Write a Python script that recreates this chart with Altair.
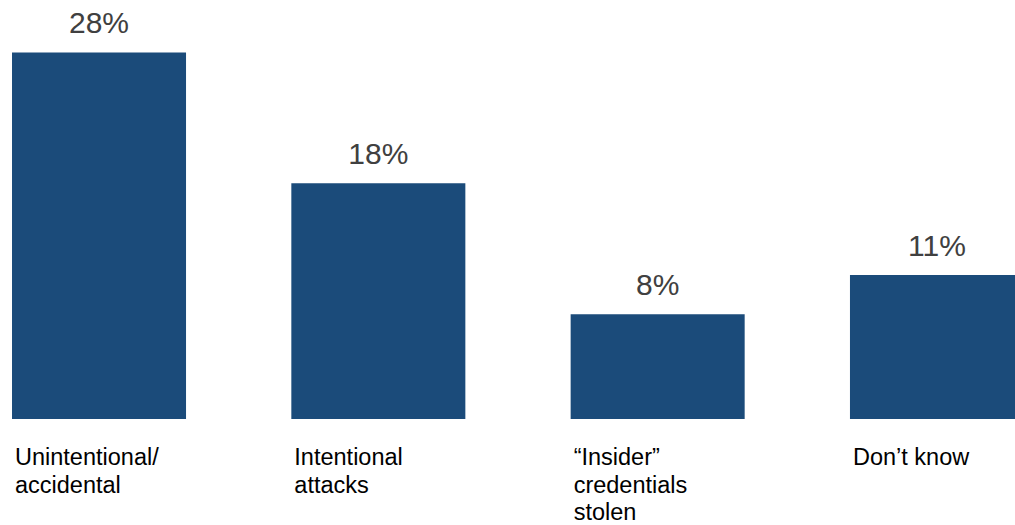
import altair as alt
import pandas as pd

categories = ["Unintentional/\naccidental", "Intentional\nattacks", "\u201cInsider\u201d\ncredentials\nstolen", "Don\u2019t know"]
values = [28, 18, 8, 11]
value_labels = ["28%", "18%", "8%", "11%"]

df = pd.DataFrame({"cat": categories, "val": values, "lab": value_labels})

x_scale = alt.Scale(range=[0, 1036], paddingInner=0.377, paddingOuter=0.043)
y_scale = alt.Scale(domain=[0, 32], nice=False, range=[419, 0])

bars = alt.Chart(df).mark_bar(color="#1b4b7a", clip=True).encode(
    x=alt.X("cat:N", sort=categories, axis=None, scale=x_scale),
    y=alt.Y("val:Q", scale=y_scale, axis=None),
)

vals = alt.Chart(df).mark_text(
    font="Liberation Sans", fontSize=30, color="#404040", baseline="alphabetic", dy=-19, align="center"
).encode(
    x=alt.X("cat:N", sort=categories, axis=None, scale=x_scale),
    y=alt.Y("val:Q", scale=y_scale),
    text="lab:N",
)

cats = alt.Chart(df).mark_text(
    font="Liberation Sans", fontSize=23.5, color="#000000", baseline="alphabetic",
    align="left", lineBreak="\n", lineHeight=27.5, dx=3
).encode(
    x=alt.X("cat:N", sort=categories, axis=None, bandPosition=0, scale=x_scale),
    y=alt.value(465),
    text="cat:N",
)

chart = alt.layer(bars, vals, cats).properties(
    width=1015, height=525,
    padding=0, autosize=alt.AutoSizeParams(type="none"),
    background="white",
).configure_view(stroke=None)

chart.save("out.html", embed_options={"renderer": "svg", "actions": False})
